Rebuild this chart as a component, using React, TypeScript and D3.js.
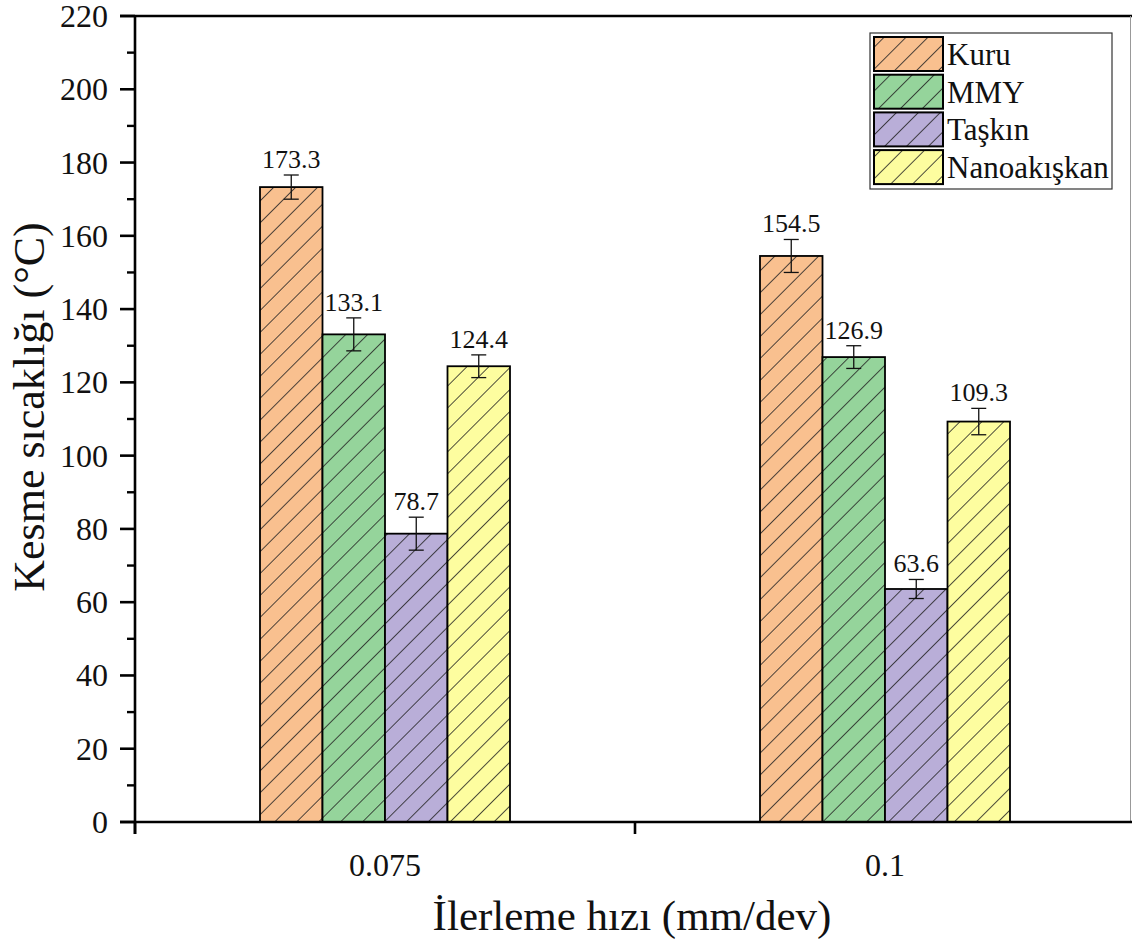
import * as d3 from "d3";

// feed rates (x categories) and cooling conditions (series)
const feeds = ["0.075", "0.1"];
const fluids = ["Kuru", "MMY", "Taşkın", "Nanoakışkan"];

// cutting temperature, °C
const kuru = [173.3, 154.5];
const mmy = [133.1, 126.9];
const taskin = [78.7, 63.6];
const nano = [124.4, 109.3];

// error bar half-widths
const kuruErr = [3.3, 4.5];
const mmyErr = [4.5, 3.1];
const taskinErr = [4.5, 2.6];
const nanoErr = [3.1, 3.6];

const yTicks = [0, 20, 40, 60, 80, 100, 120, 140, 160, 180, 200, 220];
const colors = ["#f9c08f", "#95d49b", "#b9aed8", "#fdfd9f"];

const W = 1132;
const H = 951;
const left = 135;
const right = 1135;
const top = 16;
const bottom = 822;
const font = "'Liberation Serif', 'Times New Roman', serif";

const App = () => {
  const series = [kuru, mmy, taskin, nano];
  const errs = [kuruErr, mmyErr, taskinErr, nanoErr];

  const x = d3.scaleBand().domain(feeds).range([left, right]);
  const y = d3.scaleLinear().domain([0, 220]).range([bottom, top]);
  const inner = (f) =>
    d3
      .scaleBand()
      .domain(fluids)
      .range([x(f) + x.bandwidth() * 0.25, x(f) + x.bandwidth() * 0.75]);

  const minor = d3.range(10, 220, 20);
  const xTicks = [left, left + x.bandwidth(), right];

  return (
    <svg
      width={W}
      height={H}
      style={{ position: "absolute", left: 0, top: 0, background: "#fff" }}
      fontFamily={font}
    >
      <defs>
        {colors.map((c, i) => (
          <pattern
            key={i}
            id={"hatch" + i}
            patternUnits="userSpaceOnUse"
            width={15.5}
            height={15.5}
            patternTransform="rotate(45)"
          >
            <rect width={15.5} height={15.5} fill={c} />
            <line x1={0} y1={0} x2={0} y2={15.5} stroke="#222" strokeWidth={1.6} />
          </pattern>
        ))}
      </defs>

      {/* bars */}
      {feeds.map((f, fi) => {
        const xi = inner(f);
        return fluids.map((s, si) => {
          const v = series[si][fi];
          const e = errs[si][fi];
          const cx = xi(s) + xi.bandwidth() / 2;
          return (
            <g key={f + s}>
              <rect
                x={xi(s)}
                y={y(v)}
                width={xi.bandwidth()}
                height={y(0) - y(v)}
                fill={`url(#hatch${si})`}
                stroke="#000"
                strokeWidth={1.8}
              />
              <g stroke="#111" strokeWidth={1.3}>
                <line x1={cx} x2={cx} y1={y(v + e)} y2={y(v - e)} />
                <line x1={cx - 7.5} x2={cx + 7.5} y1={y(v + e)} y2={y(v + e)} />
                <line x1={cx - 7.5} x2={cx + 7.5} y1={y(v - e)} y2={y(v - e)} />
              </g>
              <text
                x={cx}
                y={y(v + e) - 7}
                textAnchor="middle"
                fontSize={26}
                fill="#111"
              >
                {v.toFixed(1)}
              </text>
            </g>
          );
        });
      })}

      {/* frame */}
      <line x1={120} x2={W} y1={top} y2={top} stroke="#000" strokeWidth={2.6} />
      <line x1={1130.5} x2={1130.5} y1={top} y2={bottom} stroke="#999" strokeWidth={1} />

      {/* y axis */}
      <line x1={left} x2={left} y1={top} y2={bottom + 12} stroke="#000" strokeWidth={2.6} />
      {yTicks.map((t) => (
        <g key={t}>
          <line x1={left - 15} x2={left} y1={y(t)} y2={y(t)} stroke="#000" strokeWidth={2.6} />
          <text x={108} y={y(t) + 11} textAnchor="end" fontSize={32} fill="#111">
            {t}
          </text>
        </g>
      ))}
      {minor.map((t) => (
        <line key={t} x1={left - 8} x2={left} y1={y(t)} y2={y(t)} stroke="#000" strokeWidth={2.4} />
      ))}

      {/* x axis */}
      <line x1={left - 15} x2={W} y1={bottom} y2={bottom} stroke="#000" strokeWidth={2.6} />
      {xTicks.map((t, i) => (
        <line key={i} x1={t} x2={t} y1={bottom} y2={bottom + 12} stroke="#000" strokeWidth={2.6} />
      ))}
      {feeds.map((f) => (
        <text
          key={f}
          x={x(f) + x.bandwidth() / 2}
          y={876}
          textAnchor="middle"
          fontSize={32}
          fill="#111"
        >
          {f}
        </text>
      ))}

      {/* axis titles */}
      <text x={(left + right) / 2 - 3} y={930} textAnchor="middle" fontSize={43} fill="#111">
        İlerleme hızı (mm/dev)
      </text>
      <text
        transform={`translate(44,407) rotate(-90)`}
        textAnchor="middle"
        fontSize={44}
        fill="#111"
      >
        Kesme sıcaklığı (°C)
      </text>

      {/* legend */}
      <rect x={870} y={33} width={242} height={156} fill="#fff" stroke="#333" strokeWidth={1.2} />
      {fluids.map((s, i) => {
        const ry = 37 + i * 37.7;
        return (
          <g key={s}>
            <rect
              x={874}
              y={ry}
              width={69}
              height={34}
              fill={`url(#hatch${i})`}
              stroke="#000"
              strokeWidth={2}
            />
            <text x={947} y={ry + 28} fontSize={31} fill="#111">
              {s}
            </text>
          </g>
        );
      })}
    </svg>
  );
};

export default App;
